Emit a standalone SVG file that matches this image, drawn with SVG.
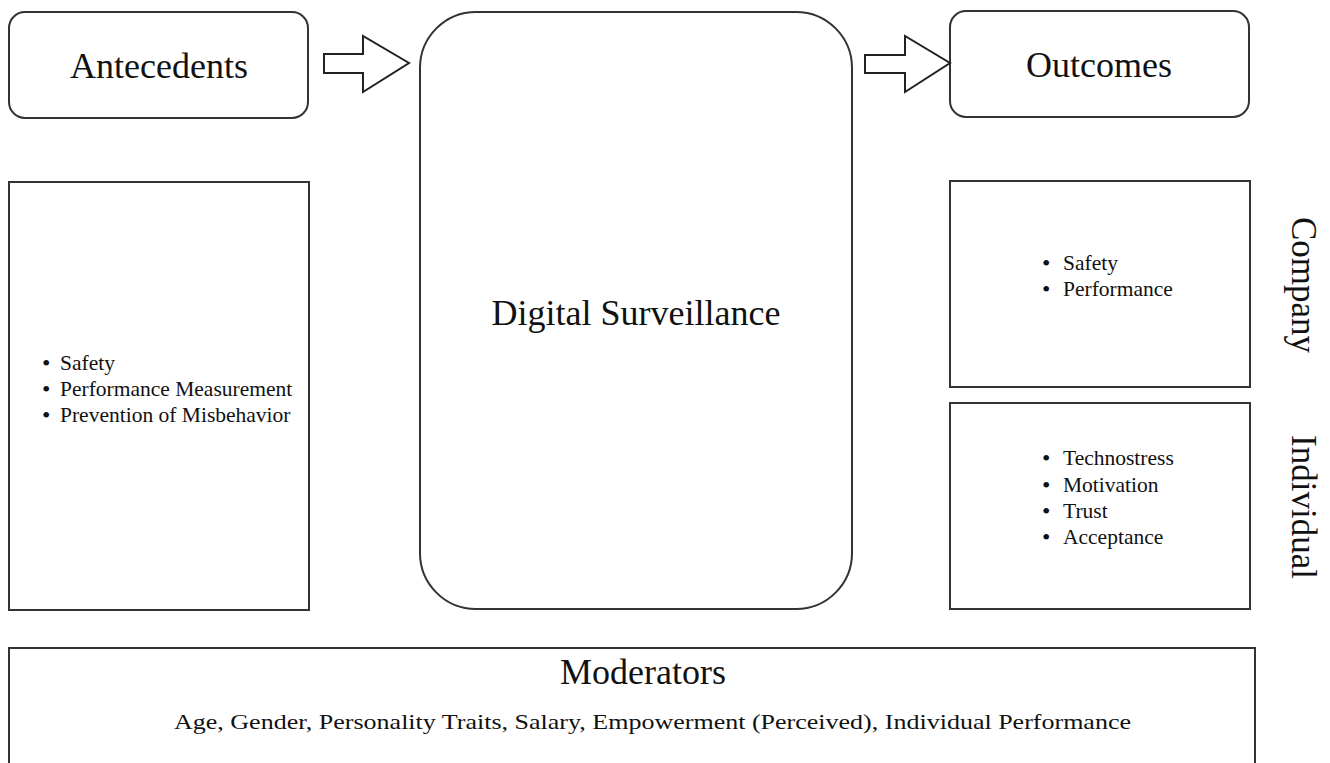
<svg xmlns="http://www.w3.org/2000/svg" width="1330" height="763" viewBox="0 0 1330 763">
  <style>
    .box { fill: #fff; stroke: #333; stroke-width: 2; }
    .arrow { fill: #fff; stroke: #222; stroke-width: 2; stroke-linejoin: miter; }
    text { font-family: "Liberation Serif", "Times New Roman", serif; fill: #111; }
    .head { font-size: 36px; }
    .item { font-size: 21.5px; }
    .dot { font-size: 24px; }
    .side { font-size: 35px; }
    .mod { font-size: 22px; }
  </style>
  <rect x="0" y="0" width="1330" height="763" fill="#fff"/>

  <g id="antecedents">
    <rect class="box" x="9" y="12" width="299" height="106" rx="16"/>
    <text class="head" x="159" y="78" text-anchor="middle">Antecedents</text>
  </g>

  <g id="antecedent-list">
    <rect class="box" x="9" y="182" width="300" height="428"/>
    <text class="dot" x="42" y="371">•</text>
    <text class="dot" x="42" y="397">•</text>
    <text class="dot" x="42" y="423">•</text>
    <text class="item" x="60" y="370">Safety</text>
    <text class="item" x="60" y="396">Performance Measurement</text>
    <text class="item" x="60" y="422">Prevention of Misbehavior</text>
  </g>

  <g id="digital-surveillance">
    <rect class="box" x="420" y="12" width="432" height="597" rx="56"/>
    <text class="head" x="636" y="325" text-anchor="middle">Digital Surveillance</text>
  </g>

  <g id="outcomes">
    <rect class="box" x="950" y="11" width="299" height="106" rx="16"/>
    <text class="head" x="1099" y="77" text-anchor="middle">Outcomes</text>
  </g>

  <g id="company-outcomes">
    <rect class="box" x="950" y="181" width="300" height="206"/>
    <text class="dot" x="1042" y="271">•</text>
    <text class="dot" x="1042" y="297">•</text>
    <text class="item" x="1063" y="270">Safety</text>
    <text class="item" x="1063" y="296">Performance</text>
    <text class="side" transform="translate(1292,285) rotate(90)" text-anchor="middle">Company</text>
  </g>

  <g id="individual-outcomes">
    <rect class="box" x="950" y="403" width="300" height="206"/>
    <text class="dot" x="1042" y="466">•</text>
    <text class="dot" x="1042" y="492.5">•</text>
    <text class="dot" x="1042" y="519">•</text>
    <text class="dot" x="1042" y="545">•</text>
    <text class="item" x="1063" y="465">Technostress</text>
    <text class="item" x="1063" y="491.5">Motivation</text>
    <text class="item" x="1063" y="518">Trust</text>
    <text class="item" x="1063" y="544">Acceptance</text>
    <text class="side" transform="translate(1292,507) rotate(90)" text-anchor="middle">Individual</text>
  </g>

  <g id="moderators">
    <rect class="box" x="9" y="648" width="1246" height="130"/>
    <text class="head" x="643" y="684" text-anchor="middle">Moderators</text>
    <text class="mod" x="174" y="729" textLength="957" lengthAdjust="spacingAndGlyphs">Age, Gender, Personality Traits, Salary, Empowerment (Perceived), Individual Performance</text>
  </g>

  <g id="connectors">
    <path class="arrow" d="M324,54 H363 V36 L409,63 L363,92 V73 H324 Z"/>
    <path class="arrow" d="M865,55 H905 V36 L950,63 L905,92 V73 H865 Z"/>
  </g>
</svg>
